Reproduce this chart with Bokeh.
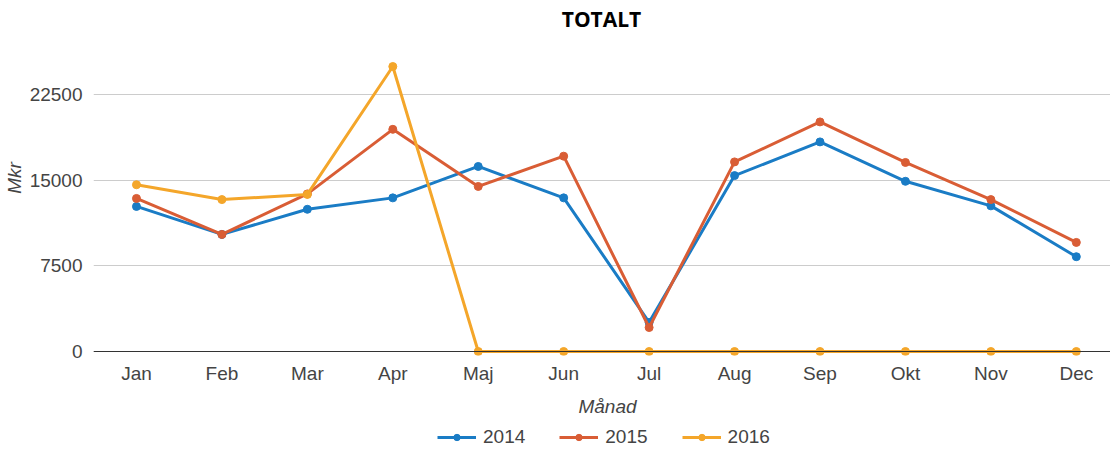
from bokeh.plotting import figure
from bokeh.models import Range1d, FixedTicker, Legend, LegendItem, Span, ColumnDataSource, Label
from bokeh.layouts import column
from bokeh.embed import file_html
from bokeh.resources import INLINE

months = ["Jan", "Feb", "Mar", "Apr", "Maj", "Jun", "Jul", "Aug", "Sep", "Okt", "Nov", "Dec"]
y2014 = [12700, 10250, 12450, 13450, 16200, 13450, 2550, 15400, 18350, 14900, 12750, 8300]
y2015 = [13400, 10250, 13800, 19450, 14450, 17100, 2100, 16600, 20100, 16550, 13300, 9550]
y2016 = [14600, 13300, 13750, 24950, 0, 0, 0, 0, 0, 0, 0, 0]
y_ticks = [0, 7500, 15000, 22500]
title_text = "TOTALT"
x_title = "Månad"
y_title = "Mkr"

series = [("2014", y2014, "#1a7cc5"), ("2015", y2015, "#d95d35"), ("2016", y2016, "#f4a62a")]

FONT = "Liberation Sans"
xs = list(range(len(months)))

FW, FH = 1017, 355
p = figure(frame_width=FW, frame_height=FH, output_backend="svg", toolbar_location=None,
           x_range=Range1d(-0.503, 11.40), y_range=Range1d(-350, 30730),
           min_border_left=85, min_border_right=0, min_border_top=0, min_border_bottom=40)
p.outline_line_color = None
p.background_fill_color = "white"
p.border_fill_color = "white"

# title drawn inside the (empty) top part of the frame
p.add_layout(Label(x=508, y=FH - 18, x_units="screen", y_units="screen", text=title_text,
                   text_align="center", text_baseline="middle", text_font="Open Sans",
                   text_font_style="bold", text_font_size="21px", text_color="#000000"))

for name, ys, col in series:
    src = ColumnDataSource(dict(x=xs, y=ys))
    p.line("x", "y", source=src, line_color=col, line_width=3)
    p.scatter("x", "y", source=src, size=8, fill_color=col, line_color=col)

p.add_layout(Span(location=0, dimension="width", line_color="#333333", line_width=1))

xa = p.xaxis[0]
xa.ticker = FixedTicker(ticks=xs)
xa.major_label_overrides = {i: m for i, m in enumerate(months)}
xa.axis_line_color = None
xa.major_tick_line_color = None
xa.minor_tick_line_color = None
xa.major_label_text_font = FONT
xa.major_label_text_font_size = "19px"
xa.major_label_text_color = "#444444"
xa.major_label_standoff = 1

ya = p.yaxis[0]
ya.ticker = FixedTicker(ticks=y_ticks)
ya.axis_line_color = None
ya.major_tick_line_color = None
ya.minor_tick_line_color = None
ya.major_label_text_font = FONT
ya.major_label_text_font_size = "19px"
ya.major_label_text_color = "#444444"
ya.major_label_standoff = 5
ya.axis_label = y_title
ya.axis_label_text_font = FONT
ya.axis_label_text_font_size = "19px"
ya.axis_label_text_font_style = "italic"
ya.axis_label_text_color = "#444444"
ya.axis_label_standoff = 2

p.xgrid.grid_line_color = None
p.ygrid.grid_line_color = "#cccccc"
p.ygrid.grid_line_width = 1

# bottom strip: x-axis title and legend (series drawn off-view, used only for the legend)
BH = 56
p2 = figure(frame_width=FW, frame_height=BH, output_backend="svg", toolbar_location=None,
            x_range=Range1d(0, 1), y_range=Range1d(1e6, 1e6 + 1),
            x_axis_location=None, y_axis_location=None,
            min_border_left=0, min_border_right=0, min_border_top=0, min_border_bottom=0)
p2.outline_line_color = None
p2.grid.visible = False
p2.add_layout(Label(x=514, y=BH - 11, x_units="screen", y_units="screen", text=x_title,
                    text_align="center", text_baseline="middle", text_font=FONT,
                    text_font_style="italic", text_font_size="19px", text_color="#444444"))

items = []
for name, ys, col in series:
    src = ColumnDataSource(dict(x=xs, y=ys))
    r1 = p2.line("x", "y", source=src, line_color=col, line_width=3)
    r2 = p2.scatter("x", "y", source=src, size=8, fill_color=col, line_color=col)
    items.append(LegendItem(label=name, renderers=[r1, r2]))

legend = Legend(items=items, orientation="horizontal", location=(437, 3),
                label_text_font=FONT, label_text_font_size="19px", label_text_color="#444444",
                glyph_width=39, glyph_height=16, label_height=16, label_standoff=7, spacing=34,
                border_line_color=None, background_fill_alpha=0, padding=0, margin=0)
p2.add_layout(legend, "center")

open("out.html", "w").write(file_html(column(p, p2, spacing=0), INLINE))
